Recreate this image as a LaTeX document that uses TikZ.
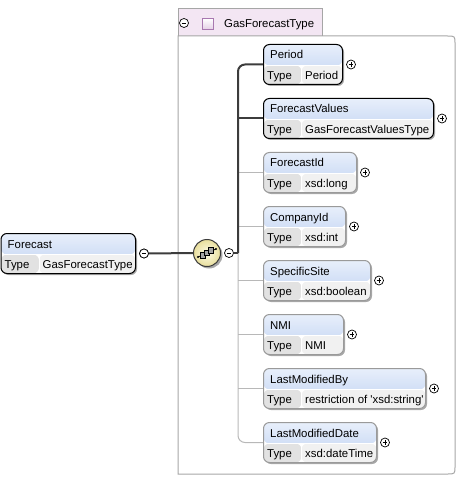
\documentclass[tikz,border=0pt]{standalone}
\usepackage{fontspec}
\setmainfont{Liberation Sans}
\usetikzlibrary{calc}
\definecolor{hdrtop}{HTML}{E8EFFB}
\definecolor{hdrbot}{HTML}{BCD0F1}
\definecolor{typec}{HTML}{E2E2E2}
\definecolor{valc}{HTML}{F1F1F1}
\definecolor{shadowc}{HTML}{A8A8A8}
\definecolor{optc}{HTML}{9A9A9A}
\definecolor{linec}{HTML}{B8B8B8}
\definecolor{reqc}{HTML}{3C3C3C}
\definecolor{contc}{HTML}{A6A6A6}
\definecolor{tabc}{HTML}{F3E6F3}
\definecolor{tabsq}{HTML}{A878B0}
\definecolor{seqin}{HTML}{FDFBE6}
\definecolor{seqout}{HTML}{E8DE9C}
\tikzset{
  elembox/.style={rectangle, rounded corners=6pt, minimum height=40pt, inner sep=0pt, line width=1pt, fill=white,
    path picture={
      \fill[top color=hdrtop,bottom color=hdrbot] (path picture bounding box.north west) rectangle ([yshift=-21pt]path picture bounding box.north east);
      \fill[typec] ([yshift=-21pt]path picture bounding box.north west) rectangle ([xshift=38pt]path picture bounding box.south west);
      \fill[valc] ([xshift=38pt,yshift=-21pt]path picture bounding box.north west) rectangle (path picture bounding box.south east);
      \draw[white, line width=1pt] ([xshift=38pt,yshift=-21pt]path picture bounding box.north west) -- ([xshift=38pt]path picture bounding box.south west);
      \draw[white, line width=0.7pt] ([yshift=-21pt]path picture bounding box.north west) -- ([yshift=-21pt]path picture bounding box.north east);
    }},
  txt/.style={anchor=base west, inner sep=0pt},
  plusc/.style={circle, draw=black, fill=white, minimum size=9pt, inner sep=0pt, line width=0.7pt,
    path picture={
      \draw[line width=0.7pt] ([xshift=-2.4pt]path picture bounding box.center) -- ([xshift=2.4pt]path picture bounding box.center);
      \draw[line width=0.7pt] ([yshift=-2.4pt]path picture bounding box.center) -- ([yshift=2.4pt]path picture bounding box.center);
    }},
  minusc/.style={circle, draw=black, fill=white, minimum size=9pt, inner sep=0pt, line width=0.7pt,
    path picture={
      \draw[line width=0.7pt] ([xshift=-2.4pt]path picture bounding box.center) -- ([xshift=2.4pt]path picture bounding box.center);
    }},
  req/.style={draw=reqc, line width=2pt},
  opt/.style={draw=linec, line width=1pt},
  seqc/.style={circle, minimum size=27pt, inner sep=0pt, draw=reqc, line width=1pt, inner color=seqin, outer color=seqout},
  sqbox/.style={draw=black, line width=0.6pt, fill=black!35, minimum size=5.5pt, inner sep=0pt}
}
\newcommand\xelem[7]{%
  \fill[shadowc, rounded corners=6pt] (#2+2,#3+2) rectangle (#4+2,#3+42);
  \node[elembox, draw=#7, minimum width={(#4-#2)*1pt}, anchor=north west] (#1) at (#2,#3) {};
  \node[txt] (#1-t) at ([xshift=7pt,yshift=-15pt]#1.north west) {#5};
  \node[txt] (#1-k) at ([xshift=4pt,yshift=-35.5pt]#1.north west) {Type};
  \node[txt] (#1-v) at ([xshift=42pt,yshift=-35.5pt]#1.north west) {#6};
  \node[plusc] (#1-p) at ([xshift=8pt]#1.east) {};
}
\begin{document}
\begin{tikzpicture}[x=1pt,y=-1pt,font=\fontsize{11.4}{13}\selectfont]
\useasboundingbox (0,0) rectangle (457,478);
% container
\fill[tabc] (178,9) rectangle (322,36);
\draw[contc, line width=1pt] (178,36) -- (178,9) -- (322,9) -- (322,36);
\draw[contc, line width=1pt] (322,36) -- (447,36) .. controls (455,36) .. (455,44) -- (455,466) .. controls (455,474) .. (447,474) -- (178,474) -- (178,36) -- (322,36);
\node[minusc] (tabm) at (184,23) {};
\node[draw=tabsq, line width=0.8pt, minimum size=11pt, inner sep=0pt, top color=white, bottom color=tabc!80!tabsq] (tabsq) at (207.5,24) {};
\node[txt] (tabtxt) at (224,28) {GasForecastType};
% compositor
\fill[shadowc] (209,255) circle (13.5);
\node[seqc] (seq) at (207,253) {};
\draw[black, line width=0.8pt] ($(seq)+(-9,4)$) -- ($(seq)+(9,-4)$);
\fill ($(seq)+(-9,4)$) circle (1.2);
\fill ($(seq)+(9,-4)$) circle (1.2);
\node[sqbox] (sq1) at ($(seq)+(-4,2.5)$) {};
\node[sqbox] (sq2) at ($(seq)+(0,0)$) {};
\node[sqbox] (sq3) at ($(seq)+(4,-2.5)$) {};
\node[minusc] (sminus) at (229,253) {};
\coordinate (bus) at (238,253);
% elements
\xelem{period}{263}{44}{342}{Period}{Period}{black}
\xelem{fv}{263}{98}{433}{ForecastValues}{GasForecastValuesType}{black}
\xelem{fid}{263}{152}{356}{ForecastId}{xsd:long}{optc}
\xelem{cid}{263}{206}{345}{CompanyId}{xsd:int}{optc}
\xelem{ss}{263}{260}{370}{SpecificSite}{xsd:boolean}{optc}
\xelem{nmi}{263}{314}{343}{NMI}{NMI}{optc}
\xelem{lmb}{263}{368}{425}{LastModifiedBy}{restriction of \textquotesingle xsd:string\textquotesingle}{optc}
\xelem{lmd}{263}{422}{376}{LastModifiedDate}{xsd:dateTime}{optc}
\xelem{forecast}{0.5}{233}{135}{Forecast}{GasForecastType}{black}
\node[minusc] (fminus) at ([xshift=8pt]forecast.east) {};
% connectors
\draw[req] (fminus.east) -- (seq.west);
\draw[opt, rounded corners=7pt] (bus) |- (lmd.west);
\draw[opt] (fid.west -| bus) -- (fid.west);
\draw[opt] (cid.west -| bus) -- (cid.west);
\draw[opt] (ss.west -| bus) -- (ss.west);
\draw[opt] (nmi.west -| bus) -- (nmi.west);
\draw[opt] (lmb.west -| bus) -- (lmb.west);
\draw[req] (fv.west -| bus) -- (fv.west);
\draw[req, rounded corners=7pt] (bus) |- (period.west);
\draw[req] (sminus.east) -- (bus);
\end{tikzpicture}
\end{document}
